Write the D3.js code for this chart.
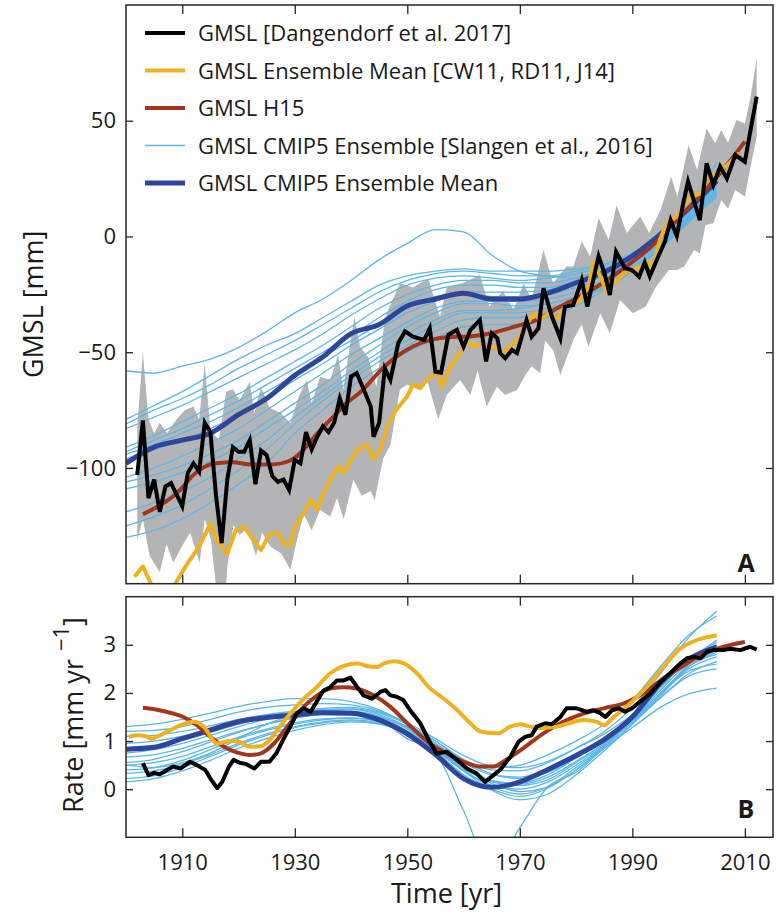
<!DOCTYPE html>
<html>
<head>
<meta charset="utf-8">
<script src="https://cdn.jsdelivr.net/npm/d3@7"></script>
<style>
  body { margin: 0; background: #fff; }
  text { font-family: "Open Sans", "DejaVu Sans", sans-serif; fill: #1a1a1a; }
</style>
</head>
<body>
<svg id="chart" width="779" height="912"></svg>
<script>
// ---------------- data ----------------
// Tick values
const xTicks = [1910, 1930, 1950, 1970, 1990, 2010];
const gmslTicks = [-100, -50, 0, 50];
const rateTicks = [0, 1, 2, 3];

// Years shared by the CMIP5 model series (5-year steps)
const cmipYears = [1900,1905,1910,1915,1920,1925,1930,1935,1940,1945,1950,1955,1960,1965,1970,1975,1980,1985,1990,1995,2000,2005];

// GMSL of individual CMIP5 models [mm]
const cmipGmsl = [
  [-79,-73,-67,-60,-53,-47,-42,-35,-28,-21,-17,-15,-14,-15,-15,-15,-14,-12,-8,-1,9,22],
  [-81,-75,-70,-64,-57,-51,-45,-38,-31,-24,-19,-16,-15,-16,-17,-17,-15,-12,-7,0,11,26],
  [-83,-78,-73,-67,-61,-55,-49,-42,-34,-27,-21,-18,-17,-18,-19,-18,-16,-13,-8,0,12,29],
  [-91,-86,-80,-74,-68,-61,-54,-47,-39,-31,-25,-21,-19,-19,-20,-20,-18,-14,-9,0,13,32],
  [-93,-88,-83,-77,-71,-64,-57,-50,-43,-35,-28,-23,-21,-21,-22,-22,-19,-15,-9,-1,10,24],
  [-94,-90,-85,-80,-74,-67,-60,-52,-45,-38,-31,-26,-24,-24,-24,-23,-20,-16,-10,-2,9,20],
  [-96,-92,-88,-83,-77,-70,-62,-55,-47,-40,-33,-28,-25,-26,-26,-25,-22,-17,-11,-3,8,18],
  [-104,-100,-95,-89,-83,-75,-67,-59,-51,-44,-37,-31,-28,-28,-28,-27,-24,-19,-12,-3,8,19],
  [-106,-103,-99,-94,-88,-80,-72,-64,-55,-47,-39,-33,-29,-29,-30,-29,-26,-20,-13,-4,7,17],
  [-109,-106,-102,-97,-91,-83,-75,-67,-58,-50,-42,-36,-32,-32,-31,-29,-26,-21,-14,-5,7,20],
  [-119,-115,-110,-104,-96,-88,-78,-69,-60,-52,-45,-38,-33,-33,-33,-31,-27,-21,-14,-5,6,18],
  [-125,-121,-116,-109,-101,-92,-81,-71,-62,-54,-47,-41,-36,-35,-35,-33,-28,-22,-14,-5,7,21],
  [-130,-127,-122,-115,-107,-98,-85,-75,-65,-57,-50,-44,-39,-38,-38,-35,-30,-23,-15,-5,8,23],
  [-58,-59,-56,-53,-48,-41,-33,-27,-19,-10,-3,3,2,-8,-15,-17,-18,-16,-11,-3,9,23]
];

// Rate of the individual CMIP5 models [mm/yr]
const cmipRate = [
  [1.30,1.35,1.45,1.58,1.72,1.82,1.88,1.88,1.82,1.65,1.35,0.95,0.60,0.45,0.50,0.72,1.00,1.35,1.85,2.55,3.20,3.60],
  [1.20,1.22,1.30,1.45,1.60,1.70,1.75,1.78,1.75,1.62,1.35,1.00,0.62,0.40,0.38,0.55,0.85,1.20,1.70,2.40,3.15,3.70],
  [1.10,1.12,1.20,1.32,1.45,1.55,1.62,1.68,1.70,1.60,1.38,1.05,0.70,0.48,0.45,0.58,0.85,1.15,1.55,2.10,2.70,3.05],
  [0.95,1.00,1.10,1.25,1.40,1.52,1.60,1.66,1.66,1.55,1.30,0.95,0.55,0.30,0.25,0.42,0.72,1.05,1.45,1.95,2.55,2.90],
  [0.85,0.90,1.02,1.18,1.35,1.48,1.58,1.65,1.67,1.58,1.35,1.00,0.60,0.32,0.22,0.35,0.65,1.00,1.45,2.00,2.55,2.85],
  [0.75,0.82,0.95,1.12,1.30,1.45,1.55,1.62,1.62,1.52,1.28,0.90,0.48,0.18,0.10,0.25,0.58,0.95,1.40,1.95,2.60,3.00],
  [0.67,0.72,0.85,1.02,1.20,1.35,1.48,1.56,1.58,1.50,1.25,0.85,0.40,0.05,-0.10,0.05,0.45,0.90,1.40,1.95,2.55,2.80],
  [0.55,0.62,0.78,0.98,1.18,1.35,1.48,1.55,1.55,1.45,1.20,0.82,0.38,0.08,0.00,0.15,0.50,0.92,1.40,1.90,2.40,2.65],
  [0.50,0.55,0.68,0.88,1.08,1.25,1.38,1.46,1.48,1.40,1.18,0.82,0.42,0.15,0.08,0.20,0.55,0.95,1.45,2.00,2.45,2.60],
  [0.40,0.45,0.60,0.82,1.05,1.22,1.35,1.44,1.47,1.42,1.22,0.88,0.45,0.12,-0.05,0.05,0.40,0.85,1.35,1.90,2.35,2.50],
  [0.33,0.38,0.52,0.72,0.95,1.15,1.30,1.40,1.44,1.38,1.18,0.85,0.45,0.18,0.12,0.30,0.65,1.05,1.50,2.05,2.65,3.10],
  [0.22,0.28,0.45,0.68,0.92,1.12,1.28,1.38,1.42,1.36,1.15,0.80,0.38,-0.02,-0.22,-0.10,0.30,0.80,1.35,1.95,2.55,2.85],
  [0.15,0.22,0.38,0.60,0.85,1.05,1.22,1.34,1.40,1.35,1.15,0.78,0.30,0.00,-0.15,0.02,0.40,0.88,1.40,1.95,2.50,2.75],
  [0.50,0.45,0.55,0.75,1.05,1.35,1.55,1.65,1.60,1.45,1.05,0.75,-0.45,-1.65,-0.80,0.05,0.35,0.85,1.28,1.70,1.98,2.10]
];

// CMIP5 ensemble mean
const cmipMeanGmsl = [-98,-91,-88,-85,-77,-70,-60,-52,-42,-38,-30,-27,-24.5,-27,-27,-24.5,-20,-15.5,-8.5,1,12,24];
const cmipMeanRate = [0.83,0.87,1.05,1.23,1.40,1.49,1.54,1.59,1.58,1.44,1.15,0.72,0.22,0.04,0.15,0.41,0.70,1.03,1.50,2.20,2.70,2.96];

// GMSL [Dangendorf et al. 2017]: [year, mm]
const dangGmsl = [[1902,-103],[1903,-79.5],[1904,-113],[1905,-105],[1906,-119],[1907,-108],[1908,-106.5],[1910,-116.5],[1911,-102],[1912,-98],[1913,-101.5],[1914,-80.5],[1915,-84.5],[1916,-112],[1917,-132.5],[1918,-105],[1919,-91],[1920,-93],[1921,-93],[1922,-88],[1923,-107],[1924,-92.5],[1925,-94.5],[1926,-103.5],[1927,-106],[1928,-105],[1929,-109.5],[1930,-96.5],[1931,-98],[1932,-84.5],[1933,-92],[1934,-86.5],[1935,-82],[1936,-84.5],[1937,-80.5],[1938,-70],[1939,-77],[1940,-60.5],[1941,-59],[1942.5,-67.5],[1943.5,-73.5],[1944,-86.5],[1945,-80.5],[1946,-57],[1947,-62],[1948.4,-46],[1949.6,-41],[1951,-43.3],[1953,-44.7],[1954,-39.7],[1955,-58.4],[1956,-58.8],[1957.3,-42.5],[1958.8,-40.4],[1960,-47.6],[1961.2,-40.4],[1962.9,-36.1],[1964,-54],[1965,-41.8],[1966,-44],[1966.5,-50.4],[1967.4,-52.6],[1968.6,-49],[1969.5,-50.4],[1971.2,-36.1],[1972.1,-43.3],[1973.3,-39.7],[1974.2,-22.4],[1975.7,-34.6],[1977.2,-44],[1978,-30.3],[1979.5,-29.6],[1981,-18.8],[1982,-30.3],[1983.2,-17],[1984,-8.5],[1985,-15.5],[1986,-25.3],[1987.1,-6.6],[1988.7,-13.7],[1989.9,-14.5],[1991.2,-17.4],[1992.2,-11.2],[1993.1,-17.2],[1994.8,-7.6],[1995.8,-2.2],[1996.8,7],[1997.9,0.2],[1999.1,15],[1999.9,23.7],[2002,7.1],[2003.2,31.6],[2004.4,22.2],[2005.6,30.2],[2006.8,25.1],[2008.3,35.2],[2010,32.3],[2010.8,43.1],[2012.1,60.4]];

// Uncertainty envelope of the Dangendorf GMSL
const dangUpper = [[1902,-82],[1903,-50],[1904,-79],[1905,-85],[1906,-80.5],[1907.3,-85],[1909,-79],[1910.5,-75],[1912,-73.5],[1913,-79],[1914,-55],[1915,-83.5],[1916.5,-88],[1917.8,-67],[1919,-66],[1920.2,-70.7],[1922,-62.7],[1922.8,-76.4],[1924,-64.9],[1925.5,-74],[1927.6,-76.4],[1929.2,-80.7],[1930.7,-69.2],[1932.1,-62],[1933,-72],[1934.5,-60.6],[1936.3,-62],[1937.7,-51.2],[1938.6,-66.3],[1940.6,-34.6],[1941.6,-47.6],[1943,-52],[1944.5,-64.9],[1946,-36],[1946.6,-31.8],[1948.7,-20.2],[1951,-22],[1953.7,-18.1],[1955.2,-30],[1955.8,-34.6],[1957,-22.2],[1960,-20],[1962.9,-16.6],[1964.6,-30.3],[1967,-23.6],[1968.9,-31.8],[1970.7,-20.2],[1972.1,-27.4],[1974.2,-5.8],[1975.9,-20.2],[1978.3,-13],[1979.5,-13],[1981,-2.2],[1982.5,-8.7],[1984,8],[1985.8,-1.5],[1987.2,13.5],[1989,1.5],[1991.4,8.6],[1993,1.5],[1995,11.4],[1996.9,25.8],[1998,17.2],[2000,39.5],[2001.5,28.7],[2003.2,46.7],[2004.7,40.3],[2005.8,46],[2007,40.5],[2008.5,50.3],[2010,48.8],[2011,60],[2012.1,77]];
const dangLower = [[1902,-131],[1903,-122],[1904.2,-138],[1906,-145],[1907.2,-133],[1908.4,-141],[1909.9,-134],[1911.4,-128],[1913.1,-141],[1914,-122],[1915.1,-131],[1916.3,-158],[1917.5,-160],[1918,-143],[1919.1,-124.8],[1920.2,-129],[1921.6,-126],[1923.1,-138],[1924.2,-128],[1925.7,-134],[1927.6,-137],[1929.2,-144],[1930.4,-131],[1931.6,-120],[1933,-127],[1934.5,-118],[1936.3,-121],[1937.5,-113],[1938.7,-122],[1940.4,-105],[1941.9,-112],[1943.5,-110],[1944.2,-114],[1945.7,-96],[1947,-90],[1948.7,-66],[1950,-64],[1952,-66],[1953.5,-62],[1955.5,-79],[1957,-68.5],[1959.4,-62],[1961.2,-68.5],[1962.5,-58],[1964.1,-73.5],[1965.9,-64.9],[1967.4,-68.5],[1969.5,-66.3],[1971.2,-59.1],[1972.1,-56.2],[1973.6,-59],[1974.5,-45],[1975.9,-49],[1977.2,-59.8],[1979.5,-44.7],[1981,-38],[1982.2,-47.6],[1984.3,-33.2],[1986,-41.8],[1987.8,-27.4],[1990.1,-33.2],[1992.4,-30.3],[1994.2,-21.7],[1996.5,-14.5],[1997.9,-14.5],[1999.2,-13],[2001,-5.8],[2002,-7.3],[2003,5],[2004.4,5.7],[2005.8,15.8],[2007,12],[2008.3,20.1],[2010,17.2],[2011,30],[2012.1,43.1]];

// GMSL Ensemble Mean [CW11, RD11, J14]
const ensGmsl = [[1901.5,-147],[1903,-142.5],[1905,-153],[1907,-158],[1909,-149],[1911,-141],[1913,-134],[1915,-124],[1916.3,-132],[1918,-137],[1919.5,-127],[1921,-125.5],[1922.6,-131],[1924,-135.5],[1925.5,-128.5],[1927,-128],[1928,-132.5],[1929.2,-133.4],[1930,-125.4],[1931.6,-119.6],[1932.8,-113.8],[1934,-118],[1935.1,-111],[1936.3,-105],[1937.8,-99.4],[1938.7,-102],[1939.9,-97],[1941.1,-92.2],[1942.8,-90],[1944,-96],[1945.2,-92],[1946.4,-82],[1948,-75],[1950,-69],[1951,-64],[1952.3,-65.5],[1954,-60.6],[1955.5,-59],[1956.1,-64.9],[1957.6,-56.2],[1959.4,-50.4],[1960.6,-45.4],[1962,-47.6],[1963,-46.3],[1964,-48.3],[1965.6,-47.6],[1966.8,-50.4],[1968.3,-47.6],[1969.5,-44.7],[1971.2,-38.2],[1972.4,-33.2],[1973.6,-36],[1975.1,-33.2],[1976.6,-35.5],[1978,-30.3],[1979.5,-29.6],[1980.7,-27.4],[1982.2,-21.7],[1983.1,-10.9],[1984.6,-18.8],[1985.5,-24.5],[1986.7,-20.2],[1988.4,-15.9],[1989.9,-14.4],[1991.4,-13],[1992.6,-10.9],[1993.7,-13],[1994.9,-1.5],[1996.1,5.7],[1997.9,8.6],[1999.6,15.8],[2002,18.6],[2003.8,26.6],[2005,27.3],[2007,31],[2009,36]];
const ensRate = [[1900.5,1.09],[1902.2,1.12],[1903.5,1.1],[1904.6,1.05],[1905.5,1.09],[1907.3,1.19],[1909.7,1.33],[1912.1,1.4],[1913.8,1.3],[1916.2,0.95],[1918.5,1.0],[1920.2,0.98],[1922,0.88],[1923.8,0.89],[1925.5,1.02],[1927.3,1.3],[1929.2,1.57],[1931.6,1.88],[1933.9,2.12],[1936.3,2.41],[1938.7,2.56],[1941.1,2.61],[1942.8,2.56],[1944.6,2.54],[1945.8,2.61],[1947.6,2.66],[1949.3,2.62],[1951.7,2.41],[1954,2.1],[1956.4,1.89],[1958.8,1.65],[1961.2,1.37],[1963,1.2],[1966,1.16],[1968.3,1.3],[1970.1,1.35],[1971.8,1.3],[1973.6,1.27],[1976.6,1.3],[1979,1.38],[1981.3,1.44],[1983.7,1.4],[1984.9,1.33],[1986.7,1.5],[1989.6,1.78],[1992.6,2.13],[1995.5,2.54],[1998.5,2.92],[2001.5,3.1],[2005,3.2]];

// GMSL H15
const h15Gmsl = [[1903,-120],[1905,-117.5],[1908,-113],[1910,-108.5],[1912,-103],[1914,-99.5],[1916,-98],[1919,-97.5],[1922,-98.5],[1926,-98.5],[1929,-97],[1931,-93.5],[1933,-88],[1935,-82.5],[1937,-77.5],[1939,-72.5],[1942,-66.5],[1945,-58.5],[1948,-52],[1951,-47.5],[1954,-44.8],[1957,-43.5],[1961,-43.2],[1965,-41.8],[1969,-39],[1973,-36],[1977,-30.5],[1982,-24.3],[1986,-18],[1990,-11],[1994,-3],[1998,7.5],[2002,17.5],[2006,28.5],[2010,41]];
const h15Rate = [[1903,1.69],[1905.5,1.65],[1908.4,1.57],[1910.2,1.5],[1912.6,1.33],[1915,1.09],[1917.4,0.88],[1919.8,0.76],[1922.1,0.71],[1923.9,0.74],[1926.3,0.95],[1928.7,1.3],[1931,1.64],[1934,1.95],[1936.3,2.09],[1938.7,2.12],[1941,2.09],[1944,1.95],[1947,1.71],[1950,1.37],[1954,0.95],[1957,0.74],[1960,0.57],[1962.9,0.47],[1965.3,0.47],[1967.6,0.61],[1970.6,0.85],[1974.2,1.16],[1977.7,1.4],[1981.3,1.57],[1984.9,1.68],[1988.4,1.78],[1992,1.99],[1995.5,2.3],[1999.1,2.57],[2002.7,2.82],[2006.2,2.96],[2010,3.06]];

// Rate of the Dangendorf GMSL
const dangRate = [[1903,0.54],[1904,0.29],[1905,0.34],[1906,0.31],[1907.3,0.4],[1908.4,0.47],[1909.7,0.43],[1911.4,0.57],[1912.6,0.5],[1914.1,0.4],[1915,0.22],[1916.2,0.02],[1917.1,0.15],[1918.3,0.47],[1919.1,0.61],[1920.2,0.55],[1921.4,0.52],[1922.8,0.43],[1924,0.57],[1925.5,0.57],[1926.7,0.74],[1927.9,1.02],[1929.2,1.3],[1930.4,1.58],[1931.6,1.68],[1932.8,1.61],[1933.9,1.82],[1935.1,2.05],[1936.3,2.12],[1937.5,2.26],[1938.7,2.26],[1939.9,2.32],[1941.1,2.12],[1942.2,1.95],[1943.7,1.88],[1945.2,2.02],[1946.1,2.06],[1947,1.95],[1948.1,1.92],[1949.3,1.85],[1950.5,1.64],[1952.3,1.37],[1954,0.98],[1955.2,0.74],[1957,0.78],[1958.8,0.61],[1960.6,0.43],[1962.3,0.33],[1963.8,0.15],[1965,0.26],[1966.5,0.4],[1968.3,0.67],[1969.8,0.99],[1971,1.09],[1972.1,1.12],[1973,1.3],[1974.5,1.37],[1975.7,1.35],[1977.2,1.5],[1978.3,1.68],[1980.1,1.68],[1981.9,1.61],[1983.1,1.64],[1984.3,1.58],[1985.2,1.5],[1986.4,1.64],[1987.6,1.68],[1988.7,1.61],[1989.9,1.68],[1991.4,1.82],[1993.2,1.99],[1995,2.23],[1996.7,2.41],[1998.5,2.61],[1999.7,2.72],[2000.9,2.75],[2002.1,2.72],[2003.2,2.85],[2004.4,2.89],[2006.2,2.89],[2007.4,2.92],[2009.2,2.89],[2010.9,2.96],[2012.1,2.9]];

// Legend entries
const legendLabels = [
  "GMSL [Dangendorf et al. 2017]",
  "GMSL Ensemble Mean [CW11, RD11, J14]",
  "GMSL H15",
  "GMSL CMIP5 Ensemble [Slangen et al., 2016]",
  "GMSL CMIP5 Ensemble Mean"
];

// ---------------- styles ----------------
const C = {
  black: "#000000",
  yellow: "#efb21e",
  red: "#a3351b",
  light: "#5bb7e8",
  dark: "#2e459c",
  band: "#b3b4b6",
  axis: "#262626",
  panelLabel: "#555555"
};
const legendStyles = [
  { color: C.black, width: 4.2 },
  { color: C.yellow, width: 4.2 },
  { color: C.red, width: 4.2 },
  { color: C.light, width: 1.4 },
  { color: C.dark, width: 5 }
];

// ---------------- layout ----------------
const svg = d3.select("#chart");
const left = 126, right = 773;
const topA = 5, botA = 583.7;
const topB = 596.7, botB = 837.3;

const x = d3.scaleLinear().domain([1900, 2015]).range([left, right]);
const yA = d3.scaleLinear().domain([-150, 100]).range([botA, topA]);
const yB = d3.scaleLinear().domain([-1, 4]).range([botB, topB]);

const defs = svg.append("defs");
defs.append("clipPath").attr("id", "clipA").append("rect")
  .attr("x", left).attr("y", topA).attr("width", right - left).attr("height", botA - topA);
defs.append("clipPath").attr("id", "clipB").append("rect")
  .attr("x", left).attr("y", topB).attr("width", right - left).attr("height", botB - topB);

function lineFor(y, curve) {
  return d3.line().x(d => x(d[0])).y(d => y(d[1])).curve(curve || d3.curveLinear);
}
const zipYears = vals => cmipYears.map((yr, i) => [yr, vals[i]]);

// ---------------- panel A ----------------
const gA = svg.append("g").attr("clip-path", "url(#clipA)");

// uncertainty band: upper edge forward, lower edge back
const bandPts = dangUpper.concat(dangLower.slice().reverse());
gA.append("path")
  .attr("d", lineFor(yA)(bandPts) + "Z")
  .attr("fill", C.band).attr("stroke", "none");

gA.selectAll("path.cmip").data(cmipGmsl).enter().append("path")
  .attr("class", "cmip")
  .attr("d", d => lineFor(yA, d3.curveMonotoneX)(zipYears(d)))
  .attr("fill", "none").attr("stroke", C.light).attr("stroke-width", 1.3);

gA.append("path").attr("d", lineFor(yA, d3.curveMonotoneX)(zipYears(cmipMeanGmsl)))
  .attr("fill", "none").attr("stroke", C.dark).attr("stroke-width", 5);

gA.append("path").attr("d", lineFor(yA, d3.curveMonotoneX)(h15Gmsl))
  .attr("fill", "none").attr("stroke", C.red).attr("stroke-width", 4);

gA.append("path").attr("d", lineFor(yA)(ensGmsl))
  .attr("fill", "none").attr("stroke", C.yellow).attr("stroke-width", 4)
  .attr("stroke-linejoin", "round");

gA.append("path").attr("d", lineFor(yA)(dangGmsl))
  .attr("fill", "none").attr("stroke", C.black).attr("stroke-width", 4)
  .attr("stroke-linejoin", "miter");

// ---------------- panel B ----------------
const gB = svg.append("g").attr("clip-path", "url(#clipB)");

gB.selectAll("path.cmipr").data(cmipRate).enter().append("path")
  .attr("class", "cmipr")
  .attr("d", d => lineFor(yB, d3.curveMonotoneX)(zipYears(d)))
  .attr("fill", "none").attr("stroke", C.light).attr("stroke-width", 1.3);

gB.append("path").attr("d", lineFor(yB, d3.curveMonotoneX)(zipYears(cmipMeanRate)))
  .attr("fill", "none").attr("stroke", C.dark).attr("stroke-width", 5);

gB.append("path").attr("d", lineFor(yB, d3.curveMonotoneX)(h15Rate))
  .attr("fill", "none").attr("stroke", C.red).attr("stroke-width", 4);

gB.append("path").attr("d", lineFor(yB, d3.curveMonotoneX)(ensRate))
  .attr("fill", "none").attr("stroke", C.yellow).attr("stroke-width", 4);

gB.append("path").attr("d", lineFor(yB)(dangRate))
  .attr("fill", "none").attr("stroke", C.black).attr("stroke-width", 4)
  .attr("stroke-linejoin", "round");

// ---------------- axes ----------------
function styleAxis(g) {
  g.select(".domain").remove();
  g.selectAll(".tick line").attr("stroke", C.axis).attr("stroke-width", 1.3);
  g.selectAll(".tick text").style("font-family", "'Open Sans', sans-serif")
    .style("font-size", "22px").attr("fill", "#1a1a1a");
}

// panel A
svg.append("g").attr("transform", `translate(${left},0)`)
  .call(d3.axisLeft(yA).tickValues(gmslTicks).tickSize(-7).tickPadding(10))
  .call(styleAxis);
svg.append("g").attr("transform", `translate(${right},0)`)
  .call(d3.axisRight(yA).tickValues(gmslTicks).tickSize(-7).tickFormat(""))
  .call(styleAxis);
svg.append("g").attr("transform", `translate(0,${topA})`)
  .call(d3.axisTop(x).tickValues(xTicks).tickSize(-9).tickFormat(""))
  .call(styleAxis);
svg.append("g").attr("transform", `translate(0,${botA})`)
  .call(d3.axisBottom(x).tickValues(xTicks).tickSize(-9).tickFormat(""))
  .call(styleAxis);

// panel B
svg.append("g").attr("transform", `translate(${left},0)`)
  .call(d3.axisLeft(yB).tickValues(rateTicks).tickSize(-7).tickPadding(10).tickFormat(d3.format("d")))
  .call(styleAxis);
svg.append("g").attr("transform", `translate(${right},0)`)
  .call(d3.axisRight(yB).tickValues(rateTicks).tickSize(-7).tickFormat(""))
  .call(styleAxis);
svg.append("g").attr("transform", `translate(0,${topB})`)
  .call(d3.axisTop(x).tickValues(xTicks).tickSize(-9).tickFormat(""))
  .call(styleAxis);
svg.append("g").attr("transform", `translate(0,${botB})`)
  .call(d3.axisBottom(x).tickValues(xTicks).tickSize(-9).tickPadding(17).tickFormat(d3.format("d")))
  .call(styleAxis);

// panel frames
[[topA, botA], [topB, botB]].forEach(([t, b]) => {
  svg.append("rect").attr("x", left).attr("y", t)
    .attr("width", right - left).attr("height", b - t)
    .attr("fill", "none").attr("stroke", C.axis).attr("stroke-width", 1.5);
});

// ---------------- labels ----------------
svg.append("text")
  .attr("transform", `translate(43,${(topA + botA) / 2 + 10}) rotate(-90)`)
  .attr("text-anchor", "middle").style("font-size", "27px")
  .text("GMSL [mm]");

const rateLabel = svg.append("text")
  .attr("transform", `translate(83,${(topB + botB) / 2 - 2}) rotate(-90)`)
  .attr("text-anchor", "middle").style("font-size", "27px");
rateLabel.append("tspan").text("Rate [mm yr");
rateLabel.append("tspan").attr("dx", 8).attr("dy", -14).style("font-size", "22px").text("\u22121");
rateLabel.append("tspan").attr("dy", 14).text("]");

svg.append("text")
  .attr("x", (left + right) / 2 - 3).attr("y", 903)
  .attr("text-anchor", "middle").style("font-size", "27px")
  .text("Time [yr]");

svg.append("text").attr("x", 746).attr("y", 572).attr("text-anchor", "middle")
  .style("font-size", "25px").style("font-weight", "bold").attr("fill", C.panelLabel).text("A");
svg.append("text").attr("x", 746).attr("y", 818).attr("text-anchor", "middle")
  .style("font-size", "25px").style("font-weight", "bold").attr("fill", C.panelLabel).text("B");

// ---------------- legend ----------------
const legend = svg.append("g");
legendLabels.forEach((lab, i) => {
  const cy = 33 + i * 37.5;
  legend.append("line").attr("x1", 145).attr("x2", 185).attr("y1", cy).attr("y2", cy)
    .attr("stroke", legendStyles[i].color).attr("stroke-width", legendStyles[i].width);
  legend.append("text").attr("x", 198).attr("y", cy + 8)
    .style("font-size", "22px").text(lab);
});
</script>
</body>
</html>
